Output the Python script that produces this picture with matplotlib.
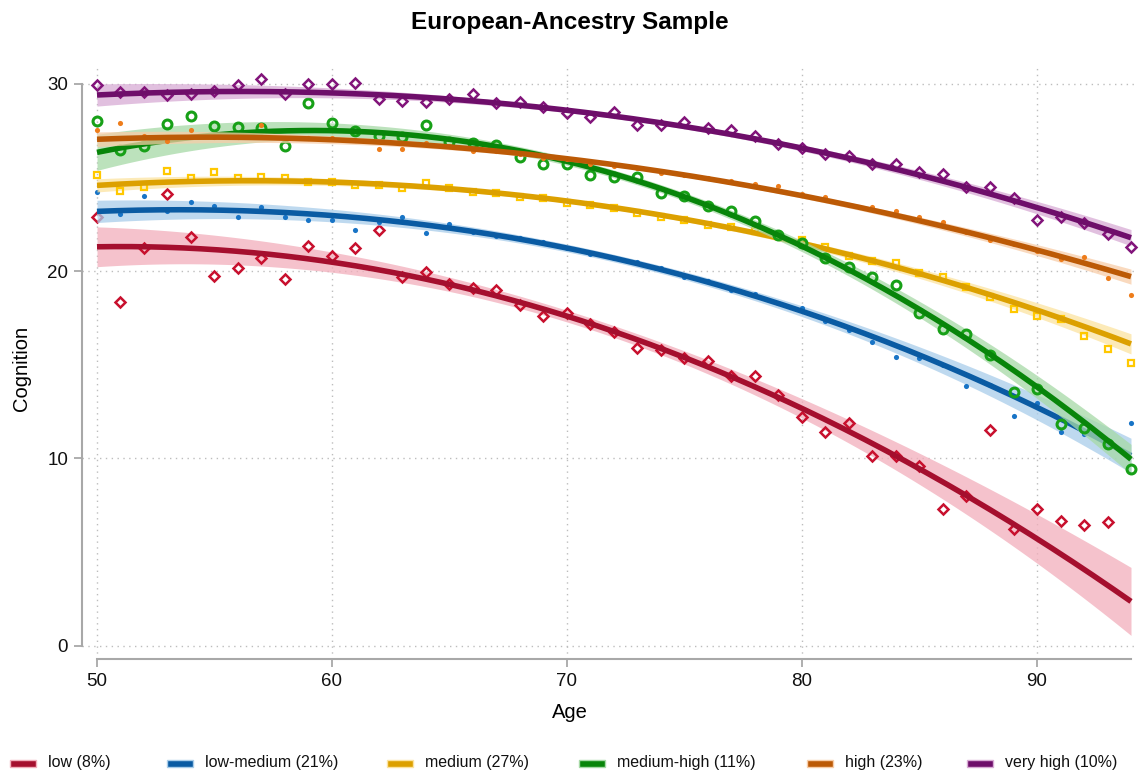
import numpy as np
import matplotlib
matplotlib.use("Agg")
import matplotlib.pyplot as plt
from matplotlib.patches import Rectangle

plt.rcParams['font.family'] = ['Liberation Sans', 'DejaVu Sans']

# ---- data -------------------------------------------------------------
ages = list(range(50, 95))

low = [22.9, 18.33, 21.22, 24.1, 21.84, 19.74, 20.18, 20.68, 19.56, 21.34,
       20.8, 21.22, 22.19, 19.66, 19.94, 19.3, 19.12, 18.99, 18.17, 17.61,
       17.76, 17.18, 16.73, 15.88, 15.79, 15.38, 15.2, 14.4, 14.4, 13.39,
       12.22, 11.39, 11.87, 10.13, 10.13, 9.6, 7.3, 7.99, 11.52, 6.21,
       7.3, 6.67, 6.42, 6.6, np.nan]
low_medium = [24.2, 23.07, 24.0, 23.2, 23.7, 23.48, 22.9, 23.44, 22.9, 22.73,
              22.73, 22.19, 22.6, 22.9, 22.02, 22.5, 22.1, 21.87, 21.75, 21.57,
              21.25, 20.9, 20.72, 20.47, 20.18, 19.7, 19.47, 18.99, 18.76, 18.28,
              18.01, 17.35, 16.86, 16.23, 15.43, 15.34, 14.99, 13.87, 13.92, 12.28,
              12.97, 11.43, 11.3, 10.7, 11.87]
medium = [25.15, 24.3, 24.5, 25.32, 24.95, 25.31, 24.95, 25.04, 24.95, 24.77,
          24.77, 24.6, 24.6, 24.42, 24.69, 24.42, 24.24, 24.15, 23.97, 23.92,
          23.62, 23.53, 23.38, 23.09, 22.87, 22.73, 22.46, 22.37, 22.15, 21.9,
          21.68, 21.28, 20.82, 20.56, 20.42, 19.88, 19.67, 19.13, 18.63, 17.96,
          17.6, 17.43, 16.54, 15.86, 15.08]
medium_high = [28.0, 26.45, 26.7, 27.85, 28.28, 27.76, 27.68, 27.62, 26.7, 28.99,
               27.89, 27.5, 27.21, 27.18, 27.78, 26.9, 26.85, 26.75, 26.08, 25.72,
               25.72, 25.13, 25.04, 25.0, 24.15, 24.01, 23.48, 23.23, 22.68, 21.91,
               21.48, 20.7, 20.2, 19.7, 19.26, 17.75, 16.89, 16.64, 15.5, 13.56,
               13.72, 11.82, 11.64, 10.75, 9.45]
high = [27.53, 27.89, 27.2, 26.93, 27.53, 27.18, 27.18, 27.8, 27.09, 27.09,
        27.09, 27.0, 26.5, 26.5, 26.82, 26.66, 26.39, 26.42, 26.27, 26.05,
        25.98, 25.7, 25.61, 25.52, 25.25, 25.13, 24.99, 24.83, 24.65, 24.56,
        24.12, 23.95, 23.51, 23.44, 23.23, 22.9, 22.64, 22.1, 21.66, 21.43,
        21.07, 20.63, 20.74, 19.65, 18.71]
very_high = [29.94, 29.55, 29.55, 29.38, 29.45, 29.62, 29.94, 30.26, 29.44, 29.99,
             29.99, 30.06, 29.17, 29.07, 29.01, 29.21, 29.44, 28.96, 29.04, 28.78,
             28.42, 28.21, 28.48, 27.8, 27.8, 27.94, 27.62, 27.53, 27.21, 26.78,
             26.56, 26.24, 26.15, 25.72, 25.72, 25.27, 25.18, 24.47, 24.47, 23.89,
             22.73, 22.9, 22.55, 21.98, 21.3]

# fitted curve and 95% CI half-width at selected ages
fit_ages = [50, 55, 60, 65, 70, 75, 80, 85, 90, 94]
fit_low = [21.25, 21.18, 20.59, 19.26, 17.48, 15.4, 12.58, 9.65, 5.64, 2.35]
fit_low_medium = [23.14, 23.3, 23.09, 22.19, 21.2, 19.7, 18.0, 15.34, 12.94, 10.05]
fit_medium = [24.54, 24.86, 24.77, 24.42, 23.7, 22.73, 21.48, 19.88, 18.01, 16.05]
fit_medium_high = [26.32, 27.3, 27.52, 27.0, 25.75, 24.06, 21.4, 17.92, 13.74, 10.0]
fit_high = [27.05, 27.1, 27.09, 26.6, 25.97, 25.13, 24.06, 22.73, 21.04, 19.74]
fit_very_high = [29.4, 29.58, 29.55, 29.17, 28.5, 27.8, 26.56, 25.2, 23.26, 21.84]

ci_low = [1.1, 0.75, 0.45, 0.4, 0.38, 0.4, 0.53, 0.7, 1.35, 1.83]
ci_low_medium = [0.6, 0.45, 0.34, 0.25, 0.2, 0.22, 0.3, 0.42, 0.67, 0.93]
ci_medium = [0.36, 0.25, 0.17, 0.13, 0.12, 0.13, 0.17, 0.25, 0.38, 0.55]
ci_medium_high = [1.02, 0.55, 0.4, 0.3, 0.25, 0.25, 0.3, 0.4, 0.55, 0.85]
ci_high = [0.4, 0.28, 0.2, 0.15, 0.12, 0.12, 0.14, 0.18, 0.27, 0.42]
ci_very_high = [0.6, 0.4, 0.25, 0.17, 0.14, 0.14, 0.16, 0.22, 0.32, 0.45]

labels = ['low (8%)', 'low-medium (21%)', 'medium (27%)',
          'medium-high (11%)', 'high (23%)', 'very high (10%)']

# ---- styling ----------------------------------------------------------
series = [
    dict(pts=low, fit=fit_low, ci=ci_low, line='#A50F2E', mk='#C8102E',
         band='#F2AEBB', marker='D', ms=5.6, mew=1.8, hollow=True),
    dict(pts=low_medium, fit=fit_low_medium, ci=ci_low_medium, line='#0A5BA3',
         mk='#1874C6', band='#A9CDEA', marker='o', ms=3.7, mew=0, hollow=False),
    dict(pts=medium, fit=fit_medium, ci=ci_medium, line='#DCA000', mk='#FFC800',
         band='#FCE3A0', marker='s', ms=5.0, mew=1.6, hollow=True),
    dict(pts=medium_high, fit=fit_medium_high, ci=ci_medium_high, line='#08850A',
         mk='#17A017', band='#A6D9A6', marker='o', ms=6.4, mew=2.2, hollow=True),
    dict(pts=high, fit=fit_high, ci=ci_high, line='#BC5A06', mk='#EE7D1B',
         band='#F8CDA8', marker='o', ms=3.7, mew=0, hollow=False),
    dict(pts=very_high, fit=fit_very_high, ci=ci_very_high, line='#6E0E6A',
         mk='#82147A', band='#D8ABD5', marker='D', ms=5.6, mew=1.8, hollow=True),
]

W, H = 1140, 778
fig = plt.figure(figsize=(W / 100, H / 100), dpi=100)
ax = fig.add_axes([82 / W, 1 - 659.3 / H, 1056 / W, 593.3 / H])


def scaled(a):
    return (np.asarray(a, dtype=float) - 72.0) / 22.0


grid_age = np.linspace(50, 94, 300)
for i, s in enumerate(series):
    base = 3 + i * 3
    curve = np.polyval(np.polyfit(scaled(fit_ages), s['fit'], 3), scaled(grid_age))
    half = np.polyval(np.polyfit(scaled(fit_ages), s['ci'], 3), scaled(grid_age))
    ax.fill_between(grid_age, curve - half, curve + half, color=s['band'],
                    alpha=0.75, lw=0, zorder=base)
    if s['hollow']:
        ax.plot(ages, s['pts'], ls='none', marker=s['marker'], ms=s['ms'],
                mfc='none', mec=s['mk'], mew=s['mew'], zorder=base + 1)
    else:
        ax.plot(ages, s['pts'], ls='none', marker=s['marker'], ms=s['ms'],
                mfc=s['mk'], mec=s['mk'], mew=0, zorder=base + 1)
    ax.plot(grid_age, curve, color=s['line'], lw=4.0, zorder=base + 2,
            solid_capstyle='butt')

# ---- axes -------------------------------------------------------------
ax.set_xlim(50 - 15 / 23.5, 50 + 1041 / 23.5)
ax.set_ylim(-13.6 / 18.73, 579.7 / 18.73)
ax.set_xticks([50, 60, 70, 80, 90])
ax.set_yticks([0, 10, 20, 30])
ax.grid(True, linestyle=(0, (1, 3.2)), color='#BDBDBD', lw=1.0)
ax.set_axisbelow(True)
for side in ('top', 'right'):
    ax.spines[side].set_visible(False)
for side in ('left', 'bottom'):
    ax.spines[side].set_color('#A8A8A8')
    ax.spines[side].set_linewidth(1.5)
ax.spines['left'].set_bounds(0, 30)
ax.spines['bottom'].set_bounds(50, 94)
ax.tick_params(direction='out', length=6, width=1.3, color='#A8A8A8',
               labelsize=13.5, labelcolor='#111111')
ax.tick_params(axis='x', pad=4)
ax.tick_params(axis='y', pad=4)

ax.set_xlabel('Age', fontsize=14.5)
ax.xaxis.label.set_va('center')
ax.xaxis.set_label_coords(488 / 1056, (659.3 - 712) / 593.3)
ax.set_ylabel('Cognition', fontsize=14.5)
ax.yaxis.label.set_va('center')
ax.yaxis.set_label_coords((22 - 82) / 1056, (659.3 - 368) / 593.3)

fig.text(570 / W, 1 - 23 / H, 'European-Ancestry Sample', ha='center',
         va='center', fontsize=17.5, fontweight='bold')

# ---- legend row -------------------------------------------------------
text_x = [48, 205, 425, 617, 845, 1005]
for s, lab, tx in zip(series, labels, text_x):
    fig.add_artist(Rectangle(((tx - 38) / W, 1 - 766.5 / H), 26 / W, 7 / H,
                             transform=fig.transFigure, facecolor=s['line'],
                             edgecolor=s['band'], lw=1.0))
    fig.text(tx / W, 1 - 763 / H, lab, ha='left', va='center', fontsize=11.5,
             color='#111111')

fig.savefig('out.png', dpi=100)
